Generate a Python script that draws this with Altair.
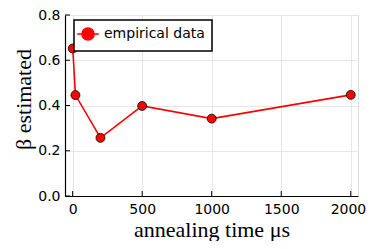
import altair as alt
import pandas as pd

# data
anneal_time = [1, 20, 200, 500, 1000, 2000]
beta_est = [0.652, 0.446, 0.257, 0.398, 0.342, 0.447]
series_name = ["empirical data"] * len(anneal_time)

x_ticks = [0, 500, 1000, 1500, 2000]
y_ticks = [0.0, 0.2, 0.4, 0.6, 0.8]

df = pd.DataFrame({"t": anneal_time, "beta": beta_est, "series": series_name})
xt = pd.DataFrame({"v": x_ticks})
yt = pd.DataFrame({"v": y_ticks})

W, H = 293, 181
xscale = alt.Scale(domain=[-55, 2052], nice=False, zero=False)
yscale = alt.Scale(domain=[0, 0.8], nice=False)

x_axis = alt.Axis(
    values=x_ticks, title="annealing time μs", format="d",
    labelFont="DejaVu Sans", labelFontSize=14, labelColor="black",
    labelAlign={"condition": {"test": "datum.value == 2000", "value": "right"}, "value": "center"},
    labelOffset={"condition": {"test": "datum.value == 2000", "value": 15}, "value": 0},
    labelPadding=6, ticks=False, tickSize=0, labelBound=False, labelOverlap=False,
    titleFont="Liberation Serif", titleFontSize=22, titleFontWeight="normal",
    titleColor="black", titlePadding=3,
    domainColor="black", domainWidth=1.2,
    gridColor="#e6e6e6", gridWidth=1,
)
y_axis = alt.Axis(
    values=y_ticks, title="β estimated", format=".1f",
    labelFont="DejaVu Sans", labelFontSize=14, labelColor="black",
    labelPadding=5, ticks=False, tickSize=0,
    titleFont="Liberation Serif", titleFontSize=22, titleFontWeight="normal",
    titleColor="black", titlePadding=2, titleY=84,
    domainColor="black", domainWidth=1.2,
    gridColor="#e6e6e6", gridWidth=1,
)

line = alt.Chart(df).mark_line(color="#ff0000", strokeWidth=1.6).encode(
    x=alt.X("t:Q", scale=xscale, axis=x_axis),
    y=alt.Y("beta:Q", scale=yscale, axis=y_axis),
)

sym = ("M-2,0L-1.13,0M1.13,0L2,0"
       "M-1.13,0A1.13,1.13 0 1 1 1.13,0A1.13,1.13 0 1 1 -1.13,0Z")

points = alt.Chart(df).mark_point(
    filled=True, shape="circle", size=80, stroke="black", strokeWidth=0.8, opacity=1
).encode(
    x=alt.X("t:Q", scale=xscale),
    y=alt.Y("beta:Q", scale=yscale),
    color=alt.Color(
        "series:N",
        scale=alt.Scale(range=["#ff0000"]),
        legend=alt.Legend(
            title=None, orient="none", legendX=9, legendY=5,
            symbolType=sym, symbolSize=117, symbolFillColor="#ff0000",
            symbolStrokeColor="#ff0000", symbolStrokeWidth=1.5, symbolOpacity=1,
            labelFont="DejaVu Sans", labelFontSize=14, labelColor="black",
            labelOffset=9, padding=7, strokeColor="black", fillColor="white",
            cornerRadius=0,
        ),
    ),
)

xticks = alt.Chart(xt).mark_rule(color="black", strokeWidth=1).encode(
    x=alt.X("v:Q", scale=xscale), y=alt.value(H), y2=alt.value(H - 5)
)
yticks = alt.Chart(yt).mark_rule(color="black", strokeWidth=1).encode(
    y=alt.Y("v:Q", scale=yscale), x=alt.value(0), x2=alt.value(5)
)

chart = alt.layer(xticks, yticks, line, points).properties(
    width=W, height=H,
    autosize=alt.AutoSizeParams(type="none"),
    padding={"left": 57, "top": 7, "right": 8, "bottom": 45},
).configure_view(stroke=None).configure(background="white").configure_legend(
    strokeWidth=1.5
)

chart.save("out.html", embed_options={"renderer": "svg", "actions": False})
